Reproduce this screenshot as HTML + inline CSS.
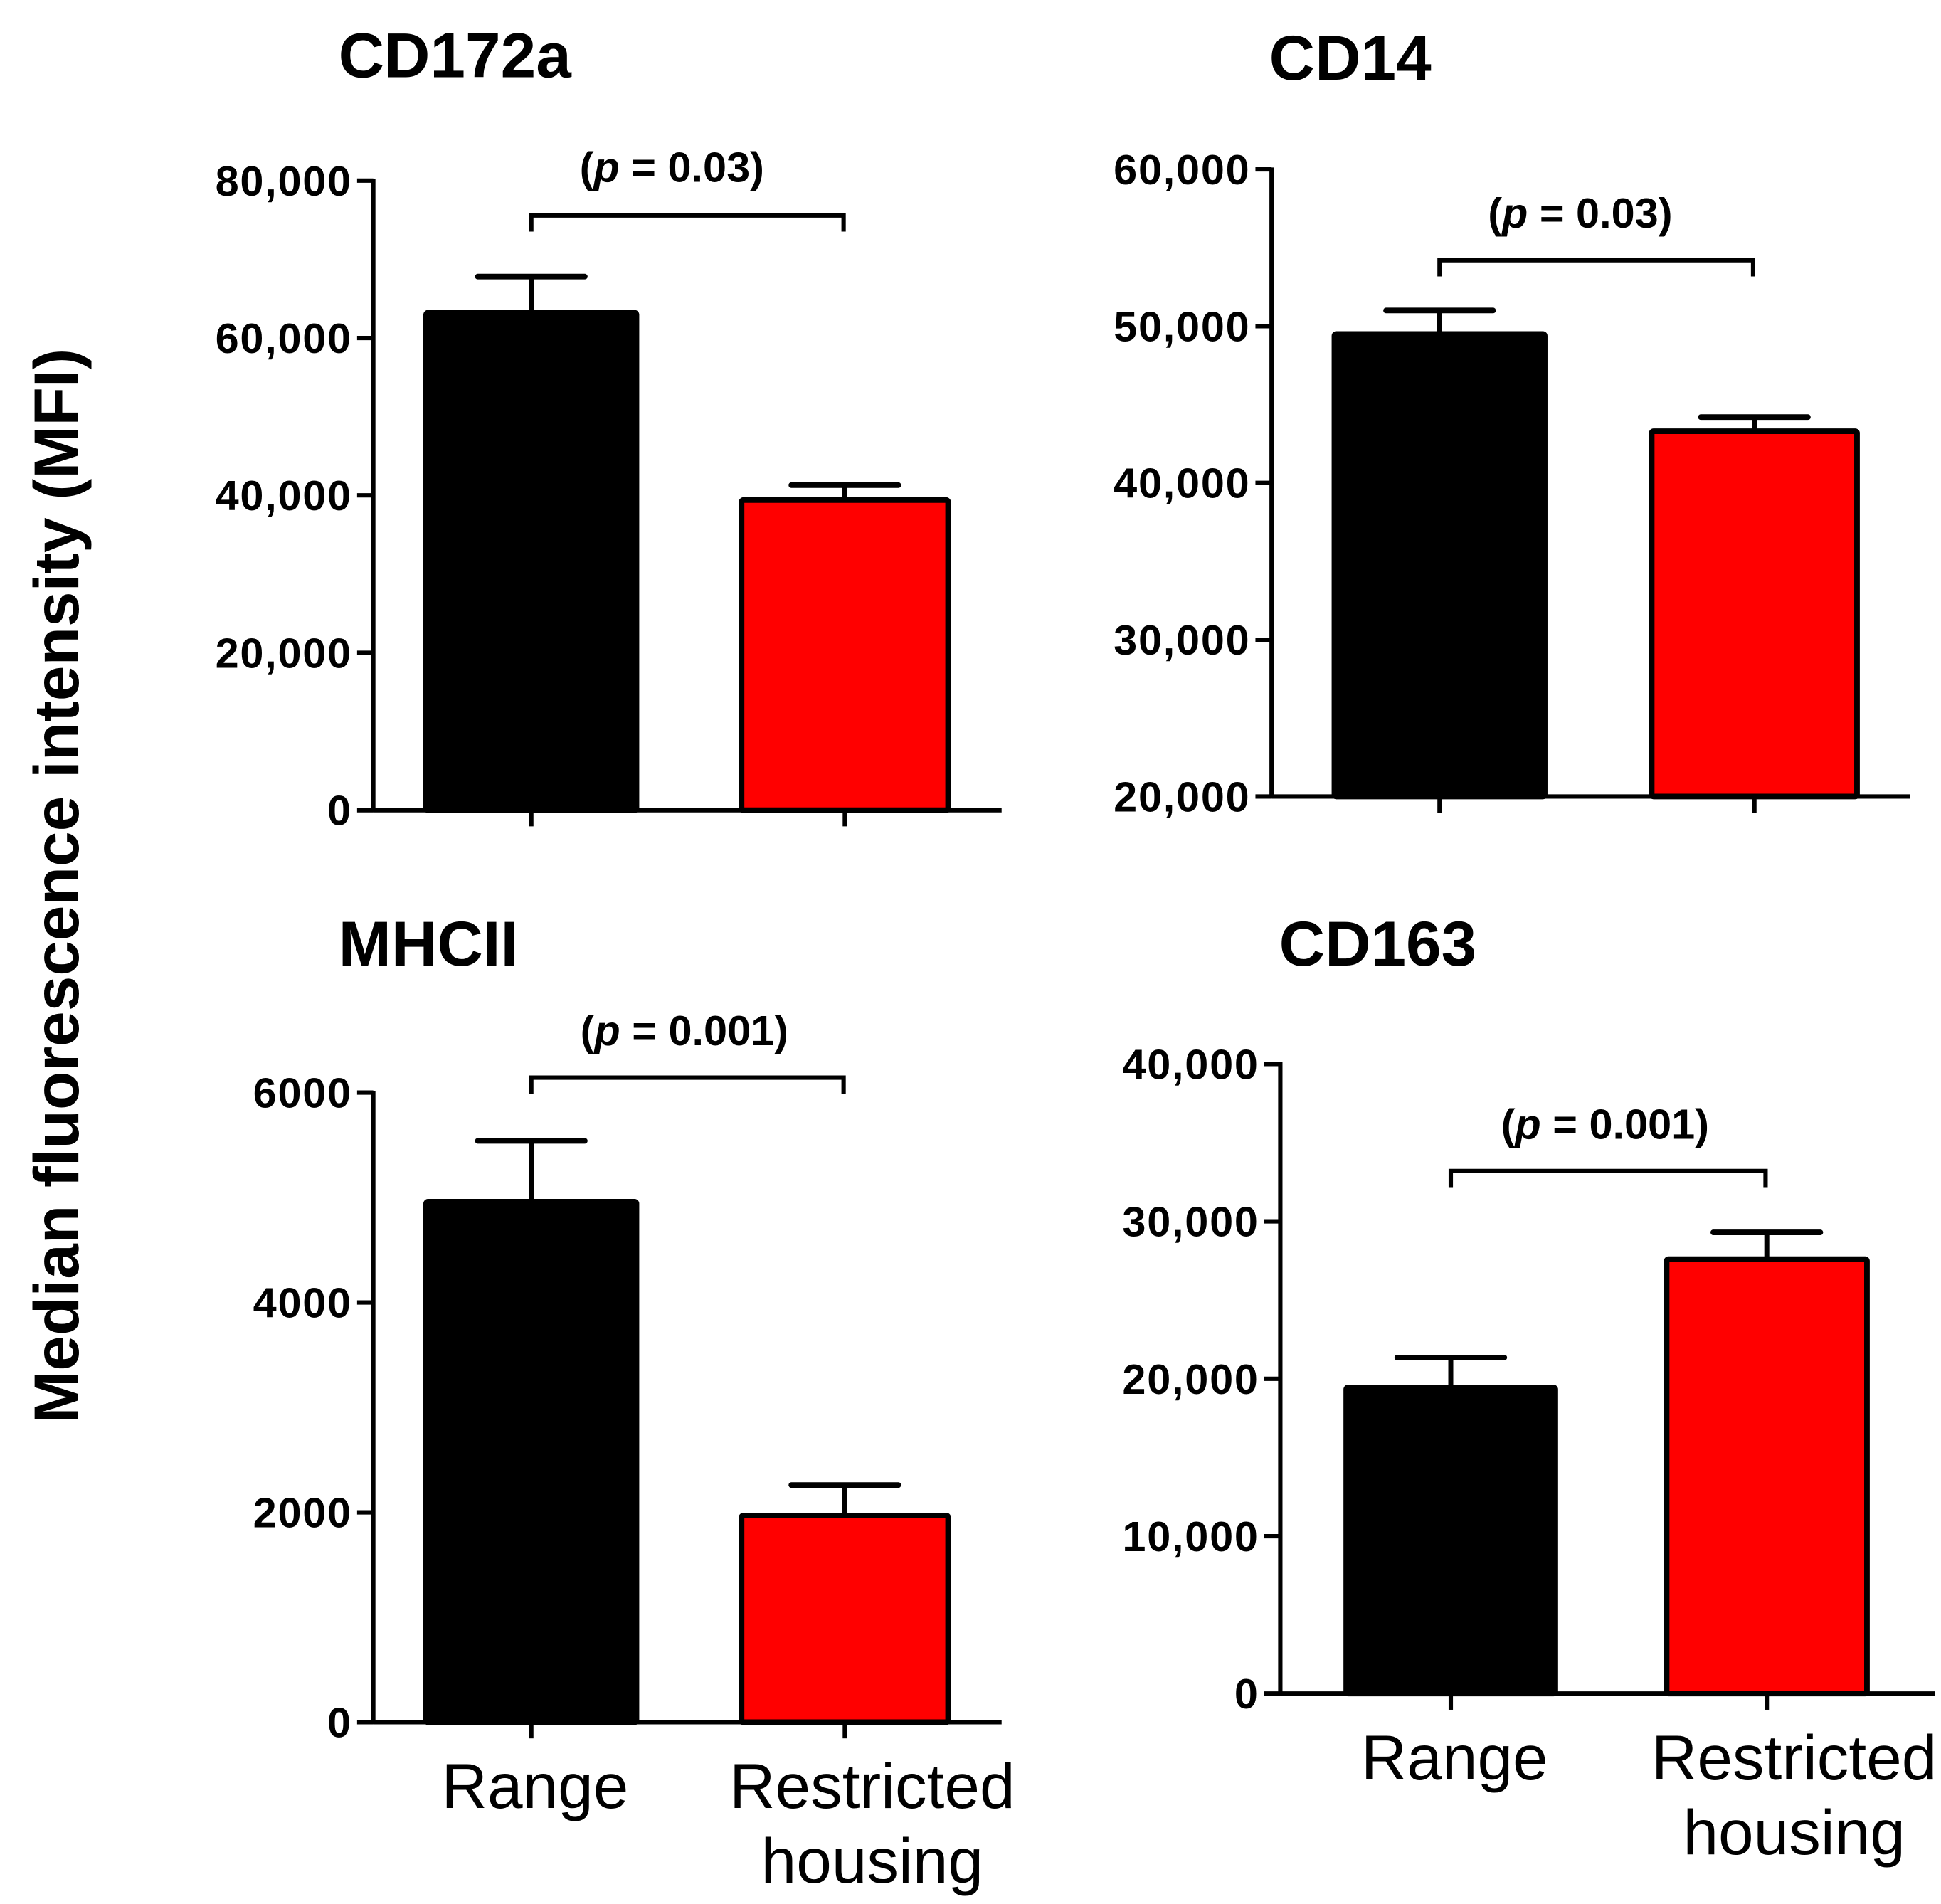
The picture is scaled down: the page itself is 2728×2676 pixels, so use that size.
<!DOCTYPE html>
<html><head><meta charset="utf-8"><style>
html,body{margin:0;padding:0;background:#fff}
svg{display:block}
text{font-family:"Liberation Sans",Arial,sans-serif;fill:#000}
</style></head><body>
<svg id="fig" width="2728" height="2676" viewBox="0 0 1560 1530" xmlns="http://www.w3.org/2000/svg">
<text transform="translate(63,712) rotate(-90)" text-anchor="middle" font-size="51" font-weight="bold">Median fluorescence intensity (MFI)</text>
</svg>
<script>
const titles = ["CD172a", "CD14", "MHCII", "CD163"];
const categories = ["Range", "Restricted housing"];
const means = [[63200, 39400], [49500, 43300], [4960, 1970], [19450, 27600]];
const errs = [[67800, 41300], [51000, 44200], [5540, 2260], [21350, 29300]];
const yMins = [0, 20000, 0, 0];
const yMaxs = [80000, 60000, 6000, 40000];
const tickLabels = [
  ["0","20,000","40,000","60,000","80,000"],
  ["20,000","30,000","40,000","50,000","60,000"],
  ["0","2000","4000","6000"],
  ["0","10,000","20,000","30,000","40,000"]
];
const tickValues = [
  [0,20000,40000,60000,80000],
  [20000,30000,40000,50000,60000],
  [0,2000,4000,6000],
  [0,10000,20000,30000,40000]
];
const pLabels = ["0.03", "0.03", "0.001", "0.001"];

// layout (not data)
const layouts = [
  {ax:300, top:145, bot:651, xend:805, cx:[427,679], bw:[173,170], title:[272,62], brY:173, pY:146, pX:540, showCat:false},
  {ax:1022, top:136, bot:640, xend:1535, cx:[1157,1410], bw:[173,169], title:[1020,64], brY:209, pY:183, pX:1270, showCat:false},
  {ax:300, top:878, bot:1384, xend:805, cx:[427,679], bw:[173,170], title:[272,776], brY:866, pY:840, pX:550, showCat:true},
  {ax:1029, top:855, bot:1361, xend:1555, cx:[1166,1420], bw:[172,165], title:[1028,776], brY:941, pY:915, pX:1290, showCat:true}
];
const NS = "http://www.w3.org/2000/svg";
const svg = document.getElementById('fig');
function mk(tag, attrs, parent){
  const e = document.createElementNS(NS, tag);
  for (const k in attrs) e.setAttribute(k, attrs[k]);
  (parent||svg).appendChild(e);
  return e;
}
const slug = ['cd172a','cd14','mhcii','cd163'];
for (let p = 0; p < 4; p++) {
  const L = layouts[p];
  const g = mk('g', {});
  
  
  const y = v => L.bot - (v - yMins[p]) / (yMaxs[p] - yMins[p]) * (L.bot - L.top);
  const t = mk('text', {x:L.title[0], y:L.title[1], 'font-size':51, 'font-weight':'bold'}, g);
  t.textContent = titles[p];
  
  
  for (let i = 0; i < 2; i++) {
    const cx = L.cx[i], w = L.bw[i];
    const yt = y(means[p][i]), ye = y(errs[p][i]);
    const el = mk('line', {x1:cx, x2:cx, y1:yt, y2:ye, stroke:'#000', 'stroke-width':4}, g);
    
    
    const cap = mk('line', {x1:cx-43, x2:cx+43, y1:ye, y2:ye, stroke:'#000', 'stroke-width':4.5, 'stroke-linecap':'round'}, g);
    
    
    const r = mk('rect', {x:cx-w/2+2, y:yt, width:w-4, height:L.bot-yt, fill: i==0?'#000':'#ff0000', stroke:'#000', 'stroke-width':4.5, rx:1.5}, g);
    
    
  }
  const ya = mk('line', {x1:L.ax, x2:L.ax, y1:L.top-1.5, y2:L.bot+1.5, stroke:'#000', 'stroke-width':3.5}, g);
  
  
  const xa = mk('line', {x1:L.ax, x2:L.xend, y1:L.bot, y2:L.bot, stroke:'#000', 'stroke-width':3.5}, g);
  
  
  for (let k = 0; k < tickValues[p].length; k++) {
    const ty = y(tickValues[p][k]);
    const tk = mk('line', {x1:L.ax-13, x2:L.ax, y1:ty, y2:ty, stroke:'#000', 'stroke-width':3.5}, g);
    
    
    const tl = mk('text', {x:L.ax-17, y:ty+12, 'text-anchor':'end', 'font-size':34, 'font-weight':'bold', 'letter-spacing':'1'}, g);
    tl.textContent = tickLabels[p][k];
    
    
  }
  for (let i = 0; i < 2; i++) {
    const tk = mk('line', {x1:L.cx[i], x2:L.cx[i], y1:L.bot, y2:L.bot+13, stroke:'#000', 'stroke-width':3.5}, g);
    
    
  }
  const br = mk('polyline', {points:`${L.cx[0]},${L.brY+13} ${L.cx[0]},${L.brY} ${L.cx[1]-1},${L.brY} ${L.cx[1]-1},${L.brY+13}`, fill:'none', stroke:'#000', 'stroke-width':3.5}, g);
  
  
  const pt = mk('text', {x:L.pX, y:L.pY, 'text-anchor':'middle', 'font-size':34, 'font-weight':'bold'}, g);
  pt.innerHTML = '(<tspan font-style="italic">p</tspan> = ' + pLabels[p] + ')';
  
  
  if (L.showCat) {
    const c0 = mk('text', {x:L.cx[0]+3, y:L.bot+69, 'text-anchor':'middle', 'font-size':51}, g);
    c0.textContent = categories[0];
    
    
    const parts = categories[1].split(' ');
    const c1 = mk('text', {x:L.cx[1]+22, y:L.bot+69, 'text-anchor':'middle', 'font-size':51}, g);
    c1.textContent = parts[0];
    
    
    const c2 = mk('text', {x:L.cx[1]+22, y:L.bot+129, 'text-anchor':'middle', 'font-size':51}, g);
    c2.textContent = parts[1];
    
    
  }
}
</script>
</body></html>
